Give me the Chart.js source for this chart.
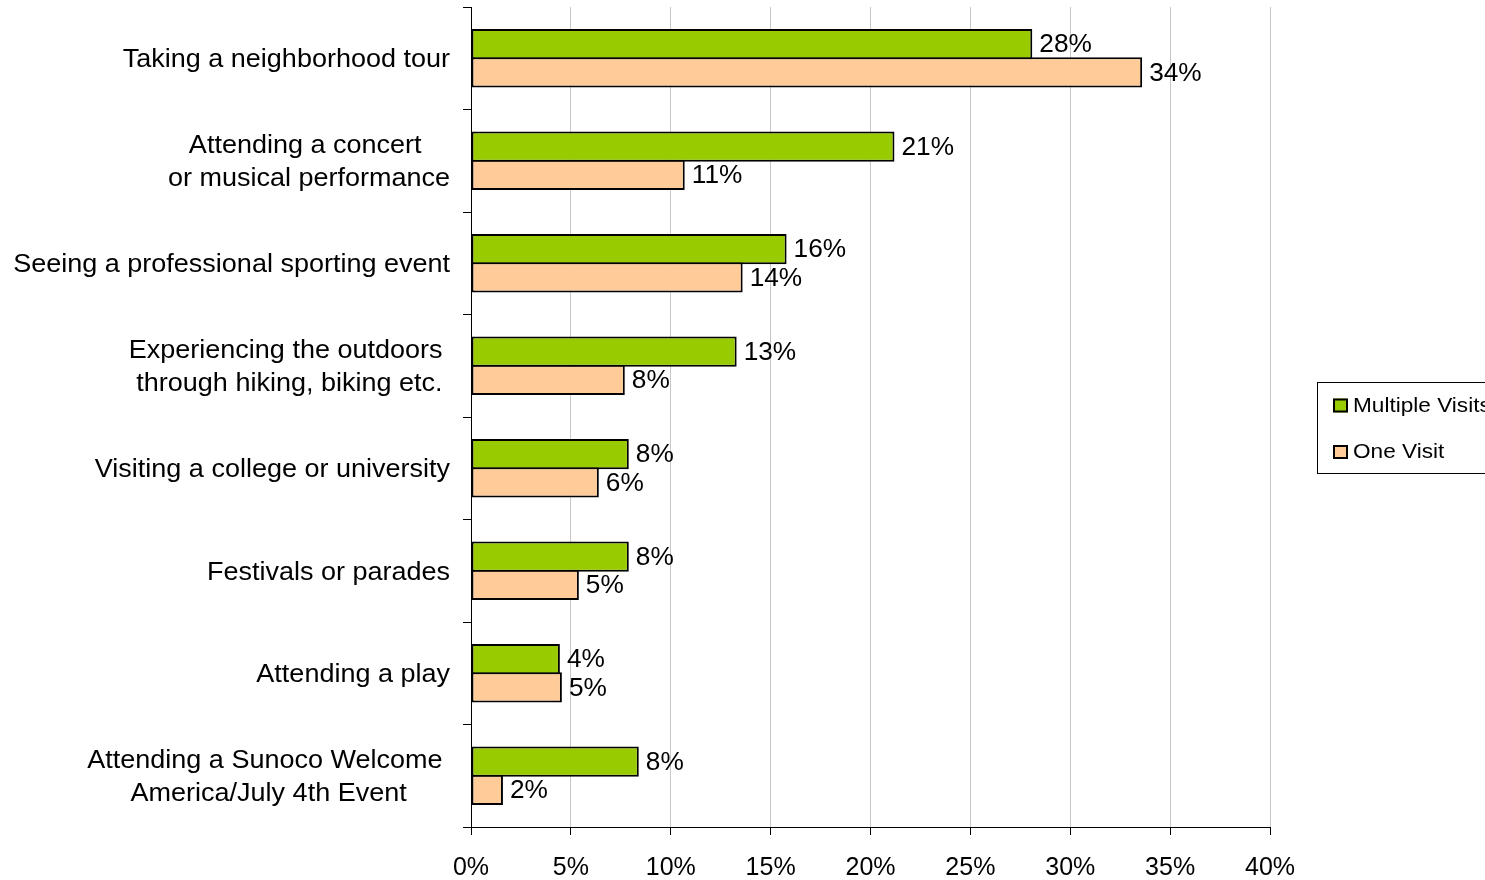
<!DOCTYPE html>
<html>
<head>
<meta charset="utf-8">
<title>Activities by number of visits</title>
<script src="https://cdn.jsdelivr.net/npm/chart.js@4.4.1/dist/chart.umd.min.js"></script>
<style>
  html, body { margin: 0; padding: 0; background: #ffffff; }
  #wrap { width: 1485px; height: 880px; }
</style>
</head>
<body>
<div id="wrap"><canvas id="c" width="1485" height="880"></canvas></div>
<script>
// Category labels (one entry per line of the axis label)
const categories = [
  ["Taking a neighborhood tour"],
  ["Attending a concert ", "or musical performance"],
  ["Seeing a professional sporting event"],
  ["Experiencing the outdoors ", "through hiking, biking etc."],
  ["Visiting a college or university"],
  ["Festivals or parades"],
  ["Attending a play"],
  ["Attending a Sunoco Welcome ", "America/July 4th Event"]
];

// Share of respondents (%)
const multipleVisits = [28.1, 21.2, 15.8, 13.3, 7.9, 7.9, 4.45, 8.4];
const oneVisit       = [33.6, 10.7, 13.6, 7.7, 6.4, 5.4, 4.55, 1.6];

const seriesNames = ["Multiple Visits", "One Visit"];

// Value axis ticks
const xTickValues = [0, 5, 10, 15, 20, 25, 30, 35, 40];

const FONT = '"Liberation Sans", Arial, sans-serif';
Chart.defaults.font.family = FONT;
Chart.defaults.color = '#000';

// Draw text with a slight horizontal stretch
function stretchText(ctx, text, x, y, align, sx) {
  const w = ctx.measureText(text).width * sx;
  let left = x;
  if (align === 'right') left = x - w;
  else if (align === 'center') left = x - w / 2;
  ctx.save();
  ctx.translate(left, y);
  ctx.scale(sx, 1);
  ctx.textAlign = 'left';
  ctx.fillText(text, 0, 0);
  ctx.restore();
  return w;
}

// Category labels: lines centred on each other, block right-aligned to the axis
const categoryLabels = {
  id: 'categoryLabels',
  afterDraw(chart) {
    const ctx = chart.ctx;
    const yScale = chart.scales.y;
    const sx = 1.08, lineH = 33;
    const right = chart.chartArea.left - 21;
    ctx.save();
    ctx.font = '25px ' + FONT;
    ctx.fillStyle = '#000';
    ctx.textBaseline = 'middle';
    chart.data.labels.forEach((lines, i) => {
      const cy = yScale.getPixelForValue(i) + 2;
      const maxW = Math.max(...lines.map(t => ctx.measureText(t).width * sx));
      const cx = right - maxW / 2;
      lines.forEach((t, k) => {
        const ly = cy + (k - (lines.length - 1) / 2) * lineH;
        stretchText(ctx, t, cx, ly, 'center', sx);
      });
    });
    ctx.restore();
  }
};

// Percentage labels at the end of each bar
const valueLabels = {
  id: 'valueLabels',
  afterDatasetsDraw(chart) {
    const ctx = chart.ctx;
    ctx.save();
    ctx.font = '25px ' + FONT;
    ctx.fillStyle = '#000';
    ctx.textBaseline = 'middle';
    chart.data.datasets.forEach((ds, di) => {
      chart.getDatasetMeta(di).data.forEach((bar, i) => {
        stretchText(ctx, Math.round(ds.data[i]) + '%', bar.x + 7, bar.y + 1.5, 'left', 1.05);
      });
    });
    ctx.restore();
  }
};

// Boxed legend on the right
const boxLegend = {
  id: 'boxLegend',
  afterDraw(chart) {
    const ctx = chart.ctx;
    const bx = chart.chartArea.right + 47.5, by = 382.5;
    ctx.save();
    ctx.fillStyle = '#fff';
    ctx.strokeStyle = '#000';
    ctx.lineWidth = 1;
    ctx.fillRect(bx, by, 220, 91);
    ctx.strokeRect(bx, by, 220, 91);
    ctx.font = '20px ' + FONT;
    ctx.textBaseline = 'middle';
    chart.data.datasets.forEach((ds, i) => {
      const cy = by + 23 + i * 46.5;
      const mx = bx + 15.5;
      ctx.fillStyle = ds.backgroundColor;
      ctx.fillRect(mx, cy - 7, 15, 14);
      ctx.strokeStyle = '#000';
      ctx.lineWidth = 2;
      ctx.strokeRect(mx + 1, cy - 6, 13, 12);
      ctx.fillStyle = '#000';
      stretchText(ctx, ds.label, mx + 20, cy + 0.5, 'left', 1.13);
    });
    ctx.restore();
  }
};

new Chart(document.getElementById('c'), {
  type: 'bar',
  data: {
    labels: categories,
    datasets: [
      {
        label: seriesNames[0],
        data: multipleVisits,
        backgroundColor: '#99CC00',
        borderColor: '#000',
        borderWidth: 2,
        borderSkipped: false,
        barPercentage: 1.07,
        categoryPercentage: 0.552
      },
      {
        label: seriesNames[1],
        data: oneVisit,
        backgroundColor: '#FFCC99',
        borderColor: '#000',
        borderWidth: 2,
        borderSkipped: false,
        barPercentage: 1.07,
        categoryPercentage: 0.552
      }
    ]
  },
  options: {
    indexAxis: 'y',
    responsive: false,
    animation: false,
    devicePixelRatio: 1,
    layout: { padding: { left: 0, right: 215, top: 7, bottom: 0 } },
    plugins: {
      legend: { display: false },
      tooltip: { enabled: false }
    },
    scales: {
      x: {
        min: 0,
        max: 40,
        afterBuildTicks: s => { s.ticks = xTickValues.map(v => ({ value: v })); },
        afterFit: s => { s.height = 53; s.paddingLeft = 0; s.paddingRight = 0; },
        ticks: {
          font: { size: 25 },
          color: '#000',
          padding: 18,
          maxRotation: 0,
          autoSkip: false,
          callback: v => v + '%'
        },
        grid: {
          color: c => (c.tick && c.tick.value === 0) ? '#000' : '#c8c8c8',
          tickColor: '#000',
          tickLength: 8,
          lineWidth: 1
        },
        border: { display: true, color: '#000', width: 1 }
      },
      y: {
        afterFit: s => { s.width = 471; s.paddingTop = 0; s.paddingBottom = 0; },
        ticks: { display: false },
        grid: {
          offset: true,
          drawOnChartArea: false,
          drawTicks: true,
          tickLength: 8,
          tickColor: '#000'
        },
        border: { display: true, color: '#000', width: 1 }
      }
    }
  },
  plugins: [categoryLabels, valueLabels, boxLegend]
});
</script>
</body>
</html>
